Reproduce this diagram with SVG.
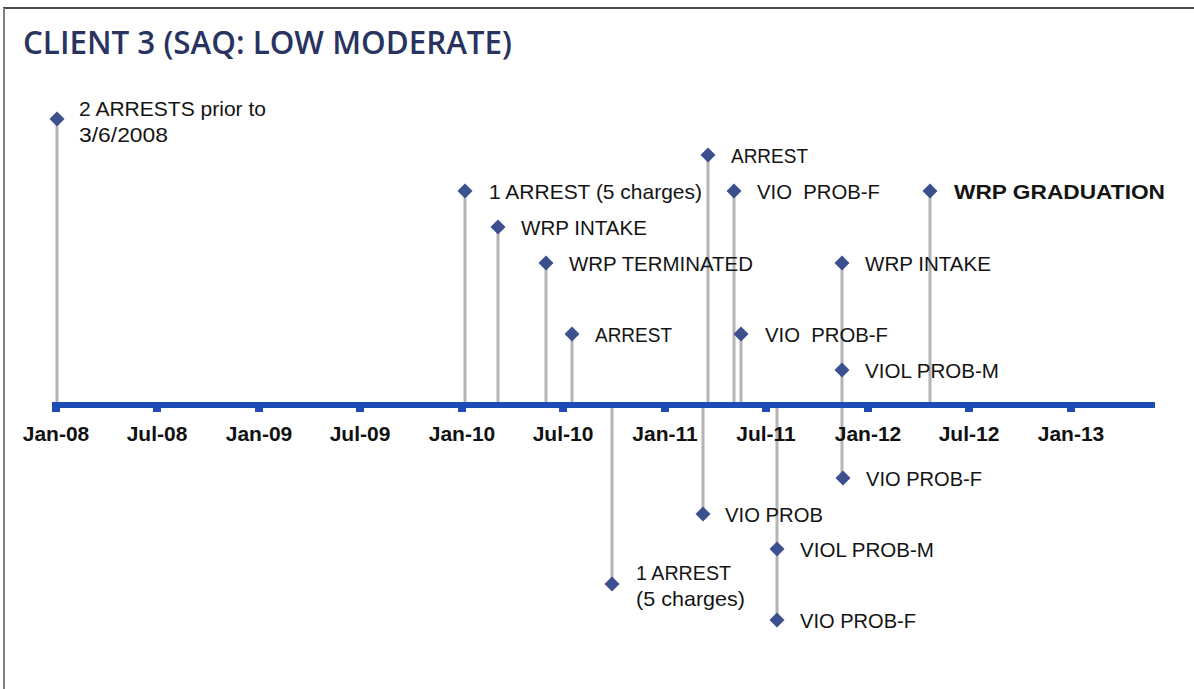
<svg xmlns="http://www.w3.org/2000/svg" width="1194" height="689" viewBox="0 0 1194 689">
  <defs>
    <style>
      .title { font-family: "Open Sans", "Liberation Sans", sans-serif; font-weight: 600; font-size: 32px; fill: #28345f; }
      .axis-label { font-family: "Liberation Sans", Arial, sans-serif; font-weight: bold; font-size: 21px; fill: #111; text-anchor: middle; }
      .lbl { font-family: "Liberation Sans", Arial, sans-serif; font-size: 21px; fill: #141414; }
      .lbl-bold { font-family: "Liberation Sans", Arial, sans-serif; font-size: 21px; font-weight: bold; fill: #141414; }
      .stem { stroke: #b4b4b4; stroke-width: 3; fill: none; }
      .mark { fill: #3c4f8e; }
    </style>
    <path id="dia" d="M0,-7.5 L7.5,0 L0,7.5 L-7.5,0 Z"/>
  </defs>

  <rect width="1194" height="689" fill="#ffffff"/>
  <!-- frame -->
  <line x1="3" y1="8" x2="1194" y2="8" stroke="#4a4a4a" stroke-width="2"/>
  <line x1="4" y1="8" x2="4" y2="689" stroke="#808080" stroke-width="2"/>

  <text class="title" x="23" y="54" textLength="489" lengthAdjust="spacingAndGlyphs">CLIENT 3 (SAQ: LOW MODERATE)</text>

  <!-- stems -->
  <g id="connectors">
    <line class="stem" x1="57" y1="119" x2="57" y2="403"/>
    <line class="stem" x1="465" y1="191" x2="465" y2="403"/>
    <line class="stem" x1="498" y1="227" x2="498" y2="403"/>
    <line class="stem" x1="546" y1="263" x2="546" y2="403"/>
    <line class="stem" x1="572" y1="334" x2="572" y2="403"/>
    <line class="stem" x1="708" y1="155" x2="708" y2="403"/>
    <line class="stem" x1="734" y1="191" x2="734" y2="403"/>
    <line class="stem" x1="741" y1="334" x2="741" y2="403"/>
    <line class="stem" x1="842" y1="263" x2="842" y2="478"/>
    <line class="stem" x1="930" y1="191" x2="930" y2="403"/>
    <line class="stem" x1="612" y1="406" x2="612" y2="584"/>
    <line class="stem" x1="703" y1="406" x2="703" y2="514"/>
    <line class="stem" x1="777" y1="406" x2="777" y2="620"/>
  </g>

  <!-- time axis -->
  <g id="axis">
    <rect x="53" y="402" width="1102" height="6" fill="#1e4bb4"/>
    <g fill="#1e4bb4">
      <rect x="52" y="402" width="8" height="10"/>
      <rect x="153" y="402" width="8" height="10"/>
      <rect x="255" y="402" width="8" height="10"/>
      <rect x="356" y="402" width="8" height="10"/>
      <rect x="458" y="402" width="8" height="10"/>
      <rect x="559" y="402" width="8" height="10"/>
      <rect x="661" y="402" width="8" height="10"/>
      <rect x="762" y="402" width="8" height="10"/>
      <rect x="864" y="402" width="8" height="10"/>
      <rect x="965" y="402" width="8" height="10"/>
      <rect x="1067" y="402" width="8" height="10"/>
    </g>
    <text class="axis-label" x="56" y="441">Jan-08</text>
    <text class="axis-label" x="157" y="441">Jul-08</text>
    <text class="axis-label" x="259" y="441">Jan-09</text>
    <text class="axis-label" x="360" y="441">Jul-09</text>
    <text class="axis-label" x="462" y="441">Jan-10</text>
    <text class="axis-label" x="563" y="441">Jul-10</text>
    <text class="axis-label" x="665" y="441">Jan-11</text>
    <text class="axis-label" x="766" y="441">Jul-11</text>
    <text class="axis-label" x="868" y="441">Jan-12</text>
    <text class="axis-label" x="969" y="441">Jul-12</text>
    <text class="axis-label" x="1071" y="441">Jan-13</text>
  </g>

  <!-- events above the axis -->
  <g id="ev-arrests-prior"><use href="#dia" class="mark" x="57" y="119"/>
    <text class="lbl" x="79" y="116" textLength="187" lengthAdjust="spacingAndGlyphs">2 ARRESTS prior to</text>
    <text class="lbl" x="79" y="142" textLength="89" lengthAdjust="spacingAndGlyphs">3/6/2008</text></g>
  <g id="ev-arrest-5"><use href="#dia" class="mark" x="465" y="191"/>
    <text class="lbl" x="489" y="199" textLength="213" lengthAdjust="spacingAndGlyphs">1 ARREST (5 charges)</text></g>
  <g id="ev-wrp-intake-1"><use href="#dia" class="mark" x="498" y="227"/>
    <text class="lbl" x="521" y="235" textLength="126" lengthAdjust="spacingAndGlyphs">WRP INTAKE</text></g>
  <g id="ev-wrp-terminated"><use href="#dia" class="mark" x="546" y="263"/>
    <text class="lbl" x="569" y="271" textLength="184" lengthAdjust="spacingAndGlyphs">WRP TERMINATED</text></g>
  <g id="ev-arrest-a"><use href="#dia" class="mark" x="572" y="334"/>
    <text class="lbl" x="595" y="342" textLength="77" lengthAdjust="spacingAndGlyphs">ARREST</text></g>
  <g id="ev-arrest-b"><use href="#dia" class="mark" x="708" y="155"/>
    <text class="lbl" x="731" y="163" textLength="77" lengthAdjust="spacingAndGlyphs">ARREST</text></g>
  <g id="ev-vio-prob-f-a"><use href="#dia" class="mark" x="734" y="191"/>
    <text class="lbl" x="757" y="199" xml:space="preserve" textLength="123" lengthAdjust="spacingAndGlyphs">VIO  PROB-F</text></g>
  <g id="ev-vio-prob-f-b"><use href="#dia" class="mark" x="741" y="334"/>
    <text class="lbl" x="765" y="342" xml:space="preserve" textLength="123" lengthAdjust="spacingAndGlyphs">VIO  PROB-F</text></g>
  <g id="ev-wrp-intake-2"><use href="#dia" class="mark" x="842" y="263"/>
    <text class="lbl" x="865" y="271" textLength="126" lengthAdjust="spacingAndGlyphs">WRP INTAKE</text></g>
  <g id="ev-viol-prob-m-a"><use href="#dia" class="mark" x="842" y="370"/>
    <text class="lbl" x="865" y="378" textLength="134" lengthAdjust="spacingAndGlyphs">VIOL PROB-M</text></g>
  <g id="ev-wrp-graduation"><use href="#dia" class="mark" x="930" y="191"/>
    <text class="lbl-bold" x="954" y="199" textLength="211" lengthAdjust="spacingAndGlyphs">WRP GRADUATION</text></g>

  <!-- events below the axis -->
  <g id="ev-arrest-5-b"><use href="#dia" class="mark" x="612" y="584"/>
    <text class="lbl" x="636" y="580" textLength="95" lengthAdjust="spacingAndGlyphs">1 ARREST</text>
    <text class="lbl" x="636" y="606" textLength="109" lengthAdjust="spacingAndGlyphs">(5 charges)</text></g>
  <g id="ev-vio-prob"><use href="#dia" class="mark" x="703" y="514"/>
    <text class="lbl" x="725" y="522" textLength="98" lengthAdjust="spacingAndGlyphs">VIO PROB</text></g>
  <g id="ev-viol-prob-m-b"><use href="#dia" class="mark" x="777" y="549"/>
    <text class="lbl" x="800" y="557" textLength="134" lengthAdjust="spacingAndGlyphs">VIOL PROB-M</text></g>
  <g id="ev-vio-prob-f-c"><use href="#dia" class="mark" x="777" y="620"/>
    <text class="lbl" x="800" y="628" textLength="116" lengthAdjust="spacingAndGlyphs">VIO PROB-F</text></g>
  <g id="ev-vio-prob-f-d"><use href="#dia" class="mark" x="843" y="478"/>
    <text class="lbl" x="866" y="486" textLength="116" lengthAdjust="spacingAndGlyphs">VIO PROB-F</text></g>
</svg>
